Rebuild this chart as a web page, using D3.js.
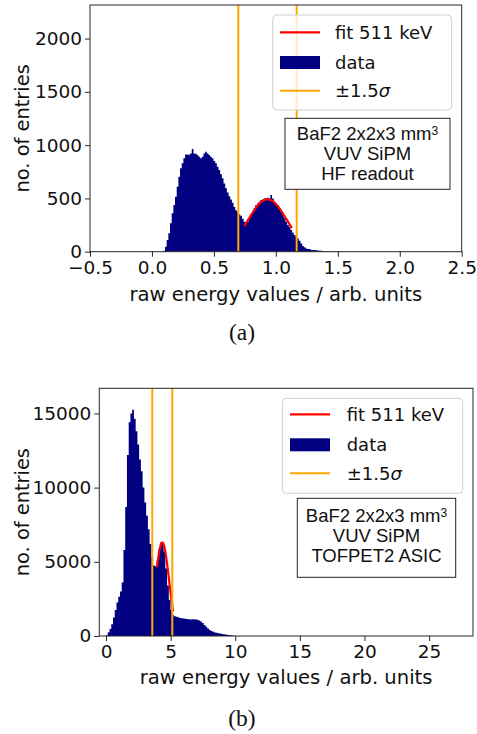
<!DOCTYPE html>
<html>
<head>
<meta charset="utf-8">
<script src="https://cdn.jsdelivr.net/npm/d3@7"></script>
<style>
  body { margin: 0; background: #fff; }
  svg { display: block; }
</style>
</head>
<body>
<svg id="fig" width="477" height="734"></svg>
<script>
// ---------- panel (a): HF readout ----------
const aBinStart = 0.0918;
const aBinWidth = 0.0135;
const aCounts = [
  10, 47, 109, 172, 266, 360, 438, 516, 610, 704,
  782, 829, 876, 913, 913, 910, 922, 963, 922, 920,
  907, 891, 876, 891, 922, 938, 922, 907, 891, 876,
  851, 829, 797, 766, 726, 690, 640, 595, 555, 520,
  490, 460, 420, 390, 370, 350, 338, 310, 281, 266,
  281, 313, 344, 375, 407, 438, 453, 469, 485, 491,
  500, 500, 507, 500, 532, 500, 469, 453, 438, 407,
  375, 344, 313, 281, 250, 235, 203, 178, 156, 141,
  125, 103, 78, 53, 41, 31, 25, 25, 16, 16,
  16, 14, 12, 9, 8, 6, 5, 4, 3, 3,
  2, 2, 2, 1, 1, 1, 1
];
const aStrayX = [2.352];
const aStrayN = [5];
const aFitParams = [0.9325, 0.157, 491];   // mean, sigma, amplitude
const aFitRange = [0.745, 1.13];
const aXTicks = [-0.5, 0.0, 0.5, 1.0, 1.5, 2.0, 2.5];
const aYTicks = [0, 500, 1000, 1500, 2000];
const aBoxLines = ["BaF2 2x2x3 mm", "VUV SiPM", "HF readout"];

// ---------- panel (b): TOFPET2 ASIC ----------
const bBinStart = 0.0;
const bBinWidth = 0.135;
const bCounts = [
  50, 250, 480, 800, 1250, 1750, 2250, 2650, 3000, 3600,
  5800, 8700, 12200, 14400, 15000, 15250, 14650, 13800, 12900, 11900,
  11100, 10000, 9000, 8100, 7200, 6200, 5300, 4750, 4700, 5100,
  5850, 6300, 6300, 5700, 4550, 3400, 2450, 1750, 1420, 1330,
  1300, 1260, 1220, 1200, 1180, 1160, 1140, 1130, 1120, 1125,
  1125, 1120, 1090, 1040, 970, 870, 740, 630, 500, 400,
  330, 280, 240, 215, 190, 165, 140, 120, 100, 85,
  70, 50, 30, 15, 8, 5, 3, 2
];
const bFitParams = [4.355, 0.516, 6300];
const bFitRange = [3.95, 5.2];
const bXTicks = [0, 5, 10, 15, 20, 25];
const bYTicks = [0, 5000, 10000, 15000];
const bBoxLines = ["BaF2 2x2x3 mm", "VUV SiPM", "TOFPET2 ASIC"];

const legendLabels = ["fit 511 keV", "data", "\u00b11.5"];
const xLabel = "raw energy values / arb. units";
const yLabel = "no. of entries";
const captions = ["(a)", "(b)"];

// ---------- styling ----------
const NAVY = "#000080", RED = "#ff0000", ORANGE = "#ffa500";
const TICK_FONT = "'DejaVu Sans', sans-serif";
const BOX_FONT = "'Liberation Sans', Arial, sans-serif";

const svg = d3.select("#fig");

const fmtA = v => (v < 0 ? "\u2212" : "") + Math.abs(v).toFixed(1);
const fmtB = v => String(v);

const panels = [
  {
    id: "a", counts: aCounts, binStart: aBinStart, binWidth: aBinWidth,
    strayX: aStrayX, strayN: aStrayN,
    fit: aFitParams, fitRange: aFitRange,
    xTicks: aXTicks, yTicks: aYTicks, fmtX: fmtA, fmtY: fmtB,
    boxLines: aBoxLines, caption: captions[0],
    xDomain: [-0.5, 2.5], yDomain: [0, 2315],
    left: 90, right: 461.7, top: 5, bottom: 251.7,
    legend: { x: 272.7, y: 15, w: 179, h: 95, rows: [32.3, 62.5, 90.7], hx: 280, tx: 335 },
    box: { x: 285, y: 118.3, w: 165, h: 71, base: [140, 160, 180] },
    xLabelY: 301, yLabelX: 29, captionY: 340
  },
  {
    id: "b", counts: bCounts, binStart: bBinStart, binWidth: bBinWidth,
    strayX: [], strayN: [],
    fit: bFitParams, fitRange: bFitRange,
    xTicks: bXTicks, yTicks: bYTicks, fmtX: fmtB, fmtY: fmtB,
    boxLines: bBoxLines, caption: captions[1],
    xDomain: [-0.52, 28.4], yDomain: [0, 16694],
    left: 99.3, right: 473, top: 388.3, bottom: 636,
    legend: { x: 282.3, y: 398.3, w: 180.4, h: 95, rows: [414.3, 444.8, 473.3], hx: 290, tx: 346.7 },
    box: { x: 297.3, y: 498.3, w: 158.4, h: 79, base: [521.7, 541.7, 561.7] },
    xLabelY: 684, yLabelX: 29, captionY: 726
  }
];

panels.forEach(drawPanel);

function drawPanel(p) {
  const g = svg.append("g");
  const x = d3.scaleLinear().domain(p.xDomain).range([p.left, p.right]);
  const y = d3.scaleLinear().domain(p.yDomain).range([p.bottom, p.top]);

  g.append("clipPath").attr("id", "clip-" + p.id)
    .append("rect").attr("x", p.left).attr("y", p.top)
    .attr("width", p.right - p.left).attr("height", p.bottom - p.top);
  const plot = g.append("g").attr("clip-path", `url(#clip-${p.id})`);

  // histogram drawn as a stepped outline
  const pts = p.counts.map((c, i) => [p.binStart + i * p.binWidth, c]);
  pts.push([p.binStart + p.counts.length * p.binWidth, p.counts[p.counts.length - 1]]);
  const area = d3.area()
    .x(d => x(d[0])).y0(y(0)).y1(d => y(d[1]))
    .curve(d3.curveStepAfter);
  plot.append("path").attr("d", area(pts)).attr("fill", NAVY);

  // isolated entries far out in the tail
  plot.selectAll("rect.stray").data(p.strayX).join("rect")
    .attr("class", "stray")
    .attr("x", d => x(d)).attr("width", x(p.binStart + p.binWidth) - x(p.binStart))
    .attr("y", (d, i) => y(p.strayN[i])).attr("height", (d, i) => y(0) - y(p.strayN[i]))
    .attr("fill", NAVY);

  // Gaussian fit of the 511 keV photopeak
  const [mu, sigma, amp] = p.fit;
  const xs = d3.range(0, 101).map(k => p.fitRange[0] + (p.fitRange[1] - p.fitRange[0]) * k / 100);
  const line = d3.line().x(d => x(d)).y(d => y(amp * Math.exp(-0.5 * ((d - mu) / sigma) ** 2)));
  plot.append("path").attr("d", line(xs))
    .attr("fill", "none").attr("stroke", RED).attr("stroke-width", 2.2);

  // ±1.5 sigma window
  plot.selectAll("line.win").data([mu - 1.5 * sigma, mu + 1.5 * sigma]).join("line")
    .attr("class", "win")
    .attr("x1", d => x(d)).attr("x2", d => x(d))
    .attr("y1", p.top).attr("y2", p.bottom)
    .attr("stroke", ORANGE).attr("stroke-width", 2);

  // frame
  g.append("rect").attr("x", p.left).attr("y", p.top)
    .attr("width", p.right - p.left).attr("height", p.bottom - p.top)
    .attr("fill", "none").attr("stroke", "#262626").attr("stroke-width", 1);

  // axes
  const xAxis = d3.axisBottom(x).tickValues(p.xTicks).tickFormat(p.fmtX)
    .tickSize(5).tickPadding(4).tickSizeOuter(0);
  const yAxis = d3.axisLeft(y).tickValues(p.yTicks).tickFormat(p.fmtY)
    .tickSize(5).tickPadding(3).tickSizeOuter(0);
  const gx = g.append("g").attr("transform", `translate(0,${p.bottom})`).call(xAxis);
  const gy = g.append("g").attr("transform", `translate(${p.left},0)`).call(yAxis);
  [gx, gy].forEach(a => {
    a.select(".domain").remove();
    a.selectAll(".tick line").attr("stroke", "#262626").attr("stroke-width", 1);
    a.selectAll(".tick text").attr("fill", "#111")
      .style("font-family", TICK_FONT).style("font-size", "18.5px");
  });

  // axis titles
  g.append("text").attr("x", (p.left + p.right) / 2).attr("y", p.xLabelY)
    .attr("text-anchor", "middle").attr("fill", "#111")
    .style("font-family", TICK_FONT).style("font-size", "19.6px").text(xLabel);
  g.append("text")
    .attr("transform", `translate(${p.yLabelX},${(p.top + p.bottom) / 2}) rotate(-90)`)
    .attr("text-anchor", "middle").attr("fill", "#111")
    .style("font-family", TICK_FONT).style("font-size", "19.4px").text(yLabel);

  // legend
  const L = p.legend;
  const lg = g.append("g");
  lg.append("rect").attr("x", L.x).attr("y", L.y).attr("width", L.w).attr("height", L.h)
    .attr("rx", 4).attr("fill", "#fff").attr("fill-opacity", 0.8)
    .attr("stroke", "#d0d0d0").attr("stroke-width", 1);
  lg.append("line").attr("x1", L.hx).attr("x2", L.hx + 40)
    .attr("y1", L.rows[0]).attr("y2", L.rows[0])
    .attr("stroke", RED).attr("stroke-width", 2.2);
  lg.append("rect").attr("x", L.hx).attr("y", L.rows[1] - 6.5)
    .attr("width", 40).attr("height", 13).attr("fill", NAVY);
  lg.append("line").attr("x1", L.hx).attr("x2", L.hx + 40)
    .attr("y1", L.rows[2]).attr("y2", L.rows[2])
    .attr("stroke", ORANGE).attr("stroke-width", 2);
  legendLabels.forEach((t, i) => {
    const tx = lg.append("text").attr("x", L.tx).attr("y", L.rows[i]).attr("dy", "0.36em")
      .attr("fill", "#111").style("font-family", TICK_FONT).style("font-size", "18px")
      .text(t);
    if (i === 2) tx.append("tspan").style("font-style", "italic").text("\u03c3");
  });

  // annotation box
  const B = p.box;
  g.append("rect").attr("x", B.x).attr("y", B.y).attr("width", B.w).attr("height", B.h)
    .attr("fill", "#fff").attr("stroke", "#222").attr("stroke-width", 1);
  p.boxLines.forEach((t, i) => {
    const tx = g.append("text").attr("x", B.x + B.w / 2).attr("y", B.base[i])
      .attr("text-anchor", "middle").attr("fill", "#111")
      .style("font-family", BOX_FONT).style("font-size", "18.5px").text(t);
    if (i === 0) tx.append("tspan").attr("dy", "-0.42em").style("font-size", "12px").text("3");
  });

  // caption
  svg.append("text").attr("x", 242).attr("y", p.captionY)
    .attr("text-anchor", "middle").attr("fill", "#111")
    .style("font-family", "'Liberation Serif', 'Times New Roman', serif")
    .style("font-size", "23.5px").text(p.caption);
}
</script>
</body>
</html>
